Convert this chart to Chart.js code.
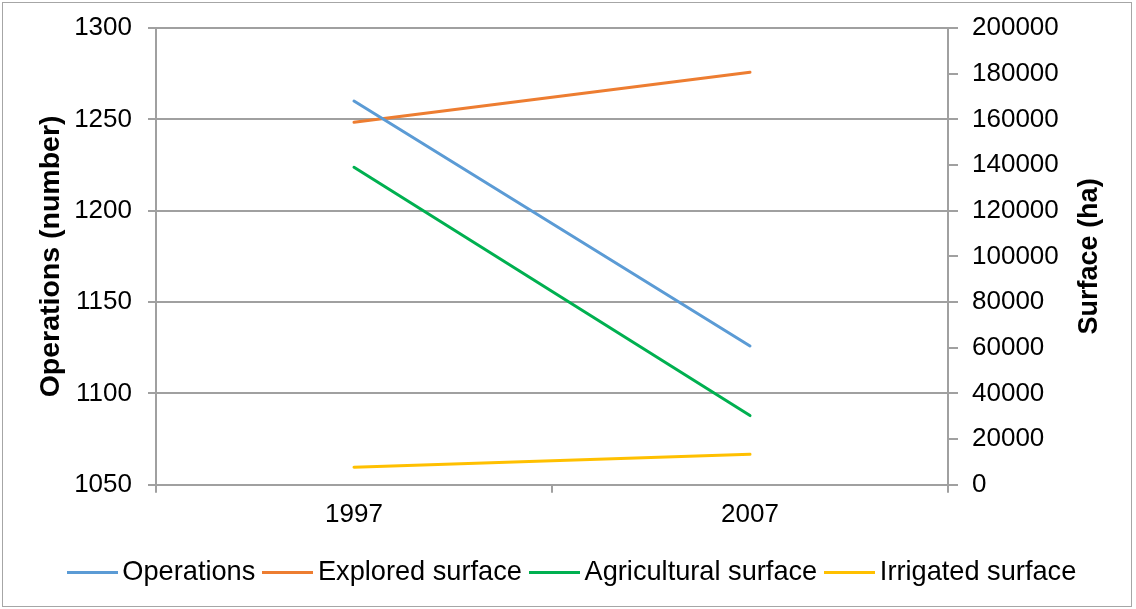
<!DOCTYPE html>
<html>
<head>
<meta charset="utf-8">
<script src="https://cdn.jsdelivr.net/npm/chart.js@4"></script>
<style>
  body { margin: 0; background: #fff; }
  #chart { display: block; }
</style>
</head>
<body>
<canvas id="chart" width="1136" height="609"></canvas>
<script>
const years = ['1997', '2007'];
const operations = [1260, 1126];
const exploredSurface = [158700, 180600];
const agriculturalSurface = [139000, 30300];
const irrigatedSurface = [7700, 13400];

const FONT = "'Liberation Sans', Arial, sans-serif";
const AXIS_GREY = '#a0a0a0';

// short line swatch used as the legend marker
function swatch(color) {
    const c = document.createElement('canvas');
    c.width = 51;
    c.height = 3;
    const g = c.getContext('2d');
    g.fillStyle = color;
    g.fillRect(0, 0, 51, 3);
    return c;
}

function series(label, data, color, axis) {
    return {
        label: label,
        data: data,
        yAxisID: axis,
        borderColor: color,
        backgroundColor: color,
        borderWidth: 3,
        borderCapStyle: 'round',
        pointRadius: 0,
        pointStyle: swatch(color),
        tension: 0,
        fill: false
    };
}

// white page with a thin grey frame
const frame = {
    id: 'frame',
    beforeDraw(chart) {
        const ctx = chart.ctx;
        ctx.save();
        ctx.fillStyle = '#fff';
        ctx.fillRect(0, 0, chart.width, chart.height);
        ctx.strokeStyle = '#a6a6a6';
        ctx.lineWidth = 1;
        ctx.strokeRect(2.5, 2.5, chart.width - 7, chart.height - 5);
        ctx.restore();
    }
};

// right axis title reads bottom-to-top like the left one
const rightTitle = {
    id: 'rightTitle',
    afterDraw(chart) {
        const scale = chart.scales.y1;
        const area = chart.chartArea;
        const ctx = chart.ctx;
        ctx.save();
        ctx.translate(scale.right - 46, (area.top + area.bottom) / 2);
        ctx.rotate(-Math.PI / 2);
        ctx.font = 'bold 27px ' + FONT;
        ctx.fillStyle = '#000';
        ctx.textAlign = 'center';
        ctx.textBaseline = 'middle';
        ctx.fillText('Surface (ha)', 0, 0);
        ctx.restore();
    }
};

const tickFont = { family: FONT, size: 26, lineHeight: 0.9 };

new Chart(document.getElementById('chart'), {
    type: 'line',
    data: {
        labels: years,
        datasets: [
            series('Operations', operations, '#5B9BD5', 'y'),
            series('Explored surface', exploredSurface, '#ED7D31', 'y1'),
            series('Agricultural surface', agriculturalSurface, '#00B050', 'y1'),
            series('Irrigated surface', irrigatedSurface, '#FFC000', 'y1')
        ]
    },
    options: {
        responsive: false,
        animation: false,
        layout: { padding: { left: 16, right: 0, top: 28, bottom: 13 } },
        plugins: {
            tooltip: { enabled: false },
            legend: {
                position: 'bottom',
                labels: {
                    usePointStyle: true,
                    pointStyleWidth: 33,
                    padding: 16,
                    color: '#000',
                    font: { family: FONT, size: 27.2 }
                }
            }
        },
        scales: {
            x: {
                offset: true,
                grid: { offset: true, drawOnChartArea: false, tickLength: 8, color: AXIS_GREY, lineWidth: 2 },
                border: { color: AXIS_GREY, width: 2 },
                ticks: { color: '#000', padding: 6, maxRotation: 0, font: { family: FONT, size: 26 } },
                afterFit(scale) { scale.height = 58; }
            },
            y: {
                position: 'left',
                min: 1050,
                max: 1300,
                grid: { color: AXIS_GREY, tickLength: 8, lineWidth: 2 },
                border: { color: AXIS_GREY, width: 2 },
                ticks: {
                    stepSize: 50,
                    color: '#000',
                    padding: 16,
                    font: tickFont,
                    callback: v => String(v)
                },
                title: {
                    display: true,
                    text: 'Operations (number)',
                    color: '#000',
                    padding: { top: 18, bottom: 0 },
                    font: { family: FONT, size: 28.5, weight: 'bold' }
                },
                afterFit(scale) { scale.width = 140; }
            },
            y1: {
                position: 'right',
                min: 0,
                max: 200000,
                grid: { drawOnChartArea: false, color: AXIS_GREY, tickLength: 10, lineWidth: 2 },
                border: { color: AXIS_GREY, width: 2 },
                ticks: {
                    stepSize: 20000,
                    color: '#000',
                    padding: 14,
                    font: tickFont,
                    callback: v => String(v)
                },
                afterFit(scale) { scale.width = 188; }
            }
        }
    },
    plugins: [frame, rightTitle]
});
</script>
</body>
</html>
